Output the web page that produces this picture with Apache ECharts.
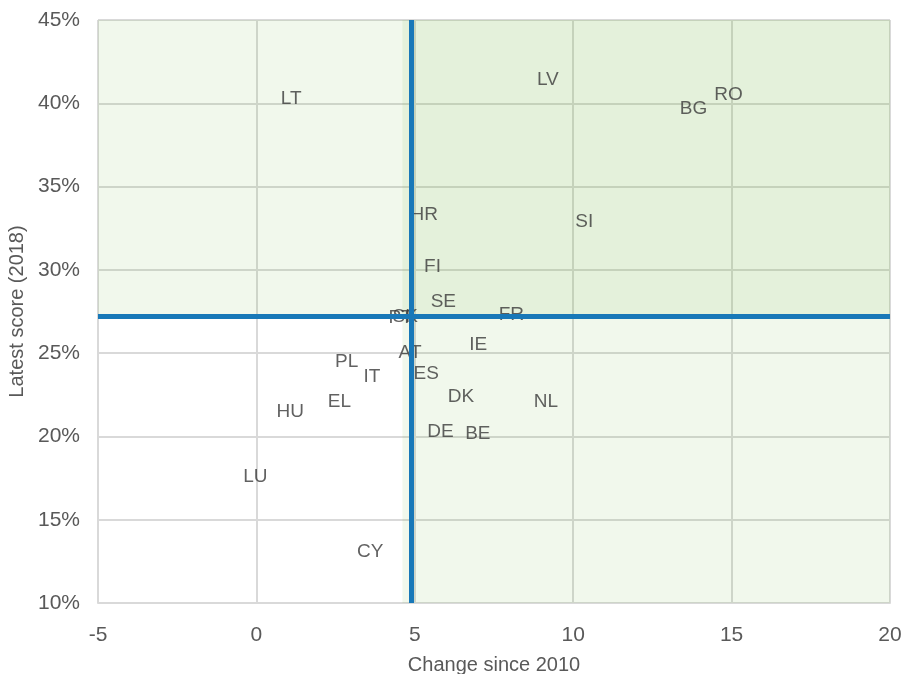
<!DOCTYPE html>
<html>
<head>
<meta charset="utf-8">
<script src="https://cdn.jsdelivr.net/npm/echarts@6/dist/echarts.min.js"></script>
<style>
html,body{margin:0;padding:0;background:#fff;}
#chart{width:904px;height:674px;}
</style>
</head>
<body>
<div id="chart"></div>
<script>
// Country codes and values (change since 2010, latest score 2018 in %)
const countries = ['LT','LV','BG','RO','HR','SI','FI','SE','FR','PT','SK','AT','IE','PL','IT','ES','DK','NL','EL','HU','DE','BE','LU','CY'];
const changeSince2010 = [1.1, 9.2, 13.8, 14.9, 5.3, 10.35, 5.56, 5.9, 8.05, 4.55, 4.7, 4.85, 7.0, 2.85, 3.65, 5.36, 6.46, 9.14, 2.62, 1.07, 5.81, 6.99, -0.03, 3.59];
const latestScore = [40.3, 41.4, 39.7, 40.5, 33.3, 32.9, 30.2, 28.1, 27.3, 27.1, 27.2, 25.0, 25.5, 24.5, 23.6, 23.75, 22.4, 22.1, 22.1, 21.5, 20.3, 20.15, 17.55, 13.1];

// Reference lines (averages)
const avgChange = [4.9];
const avgScore = [27.2];

// Highlight bands: [xFrom, yFrom, xTo, yTo]
const bandAboveAvg = [-5.24, 27.15, 20.05, 45.18];
const bandChangeAboveAvg = [4.61, 9.95, 20.05, 45.18];

// Axis ticks
const xTicks = { min: -5, max: 20, step: 5 };
const yTicks = { min: 10, max: 45, step: 5 };

const font = 'Liberation Sans, Arial, sans-serif';

const points = countries.map((c, i) => [changeSince2010[i], latestScore[i], c]);

function band(b) {
  return [{ coord: [b[0], b[1]] }, { coord: [b[2], b[3]] }];
}

const chart = echarts.init(document.getElementById('chart'), null, { renderer: 'canvas' });
chart.setOption({
  animation: false,
  backgroundColor: '#ffffff',
  grid: { left: 98, right: 14, top: 20, bottom: 71, containLabel: false, outerBoundsMode: 'none' },
  xAxis: {
    type: 'value',
    min: xTicks.min, max: xTicks.max, interval: xTicks.step,
    name: 'Change since 2010',
    nameLocation: 'middle',
    nameGap: 52,
    nameTextStyle: { color: '#595959', fontSize: 20, fontFamily: font },
    axisLine: { show: true, lineStyle: { color: '#d9d9d9', width: 2 } },
    axisTick: { show: false },
    axisLabel: { color: '#595959', fontSize: 21, fontFamily: font, margin: 22 },
    splitLine: { show: true, lineStyle: { color: '#d9d9d9', width: 2 } }
  },
  yAxis: {
    type: 'value',
    min: yTicks.min, max: yTicks.max, interval: yTicks.step,
    name: 'Latest score (2018)',
    nameLocation: 'middle',
    nameGap: 68,
    nameTextStyle: { color: '#595959', fontSize: 20, fontFamily: font },
    axisLine: { show: true, lineStyle: { color: '#d9d9d9', width: 2 } },
    axisTick: { show: false },
    axisLabel: { color: '#595959', fontSize: 21, fontFamily: font, margin: 18, formatter: '{value}%' },
    splitLine: { show: true, lineStyle: { color: '#d9d9d9', width: 2 } }
  },
  series: [
    {
      type: 'scatter',
      z: 2,
      symbolSize: 0,
      data: points,
      label: {
        show: true,
        position: 'inside',
        formatter: p => p.data[2],
        color: '#3a3a3a',
        fontSize: 19,
        fontFamily: font
      },
      markLine: {
        silent: true,
        symbol: ['none', 'none'],
        label: { show: false },
        lineStyle: { color: '#1878b8', width: 5, type: 'solid' },
        data: [{ xAxis: avgChange[0] }, { yAxis: avgScore[0] }]
      }
    },
    {
      type: 'scatter',
      z: 10,
      clip: false,
      data: [],
      markArea: {
        silent: true,
        itemStyle: { color: 'rgba(120,190,70,0.1)' },
        data: [band(bandAboveAvg), band(bandChangeAboveAvg)]
      }
    }
  ]
});
</script>
</body>
</html>
